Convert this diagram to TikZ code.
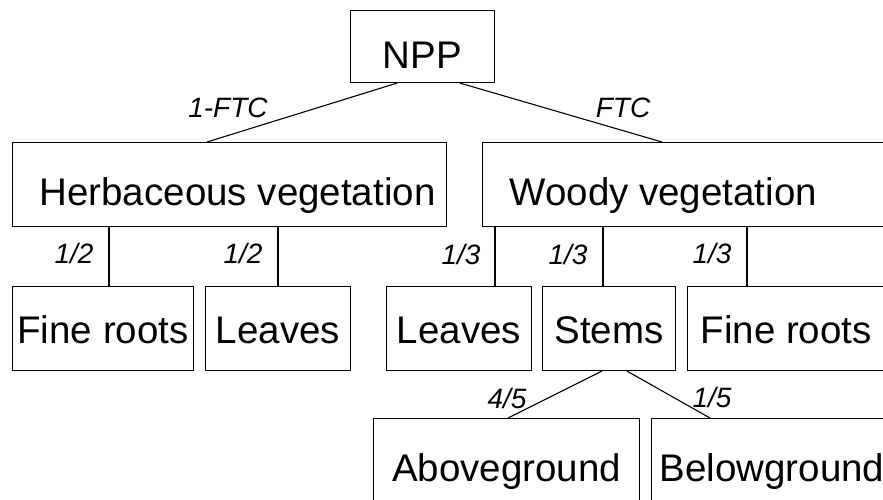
\documentclass[tikz,border=0pt]{standalone}
\usepackage{fontspec}
\setmainfont{Liberation Sans}
\newcommand\padtext[3]{\makebox[#1][l]{\hspace*{#2}#3}}
\begin{document}
\begin{tikzpicture}[x=1pt,y=-1pt,
  box/.style={draw, line width=1.1pt, inner xsep=0pt, inner ysep=0pt, anchor=north west,
              font=\fontsize{38.5}{40}\selectfont},
  toprow/.style={text height=63pt, text depth=21pt},
  midrow/.style={text height=57pt, text depth=27pt},
  botrow/.style={text height=63pt, text depth=27pt},
  frac/.style={anchor=base, inner sep=0pt, font=\itshape\fontsize{28}{30}\selectfont},
  conn/.style={line width=1.1pt}]
\useasboundingbox (0,0) rectangle (883,500);
\clip (0,0) rectangle (883,500);
% boxes
\node[box, minimum width=144pt, text height=58pt, text depth=14pt] (npp) at (350,10) {NPP};
\node[box, toprow] (herb) at (12,142) {\padtext{434pt}{27pt}{Herbaceous vegetation}};
\node[box, toprow] (woody) at (482,142) {\padtext{500pt}{27pt}{Woody vegetation}};
\node[box, midrow, minimum width=181pt] (hfr) at (12,286) {Fine roots};
\node[box, midrow, minimum width=145pt] (hlv) at (205,286) {Leaves};
\node[box, midrow, minimum width=145pt] (wlv) at (386,286) {Leaves};
\node[box, midrow, minimum width=133pt] (stems) at (542,286) {Stems};
\node[box, midrow] (wfr) at (687,286) {\padtext{300pt}{13pt}{Fine roots}};
\node[box, botrow, minimum width=266pt] (above) at (373,418) {Aboveground};
\node[box, botrow] (below) at (651,418) {\padtext{300pt}{8pt}{Belowground}};
% connectors
\draw[conn] ([xshift=47pt]npp.south west) -- ([xshift=195pt]herb.north west);
\draw[conn] ([xshift=110pt]npp.south west) -- ([xshift=180pt]woody.north west);
\draw[conn] ([xshift=97pt]herb.south west) -- ([xshift=97pt]hfr.north west);
\draw[conn] ([xshift=266pt]herb.south west) -- ([xshift=73pt]hlv.north west);
\draw[conn] ([xshift=13pt]woody.south west) -- ([xshift=109pt]wlv.north west);
\draw[conn] ([xshift=121pt]woody.south west) -- ([xshift=61pt]stems.north west);
\draw[conn] ([xshift=265pt]woody.south west) -- ([xshift=60pt]wfr.north west);
\draw[conn] ([xshift=60pt]stems.south west) -- ([xshift=135pt]above.north west);
\draw[conn] ([xshift=85pt]stems.south west) -- ([xshift=59pt]below.north west);
% labels
\node[frac] (l1) at (228,118) {1-FTC};
\node[frac] (l2) at (623,118) {FTC};
\node[frac] (l3) at (74,263) {1/2};
\node[frac] (l4) at (243,263) {1/2};
\node[frac] (l5) at (461,264) {1/3};
\node[frac] (l6) at (568,264) {1/3};
\node[frac] (l7) at (712,263) {1/3};
\node[frac] (l8) at (507,408) {4/5};
\node[frac] (l9) at (712,407) {1/5};
\end{tikzpicture}
\end{document}
